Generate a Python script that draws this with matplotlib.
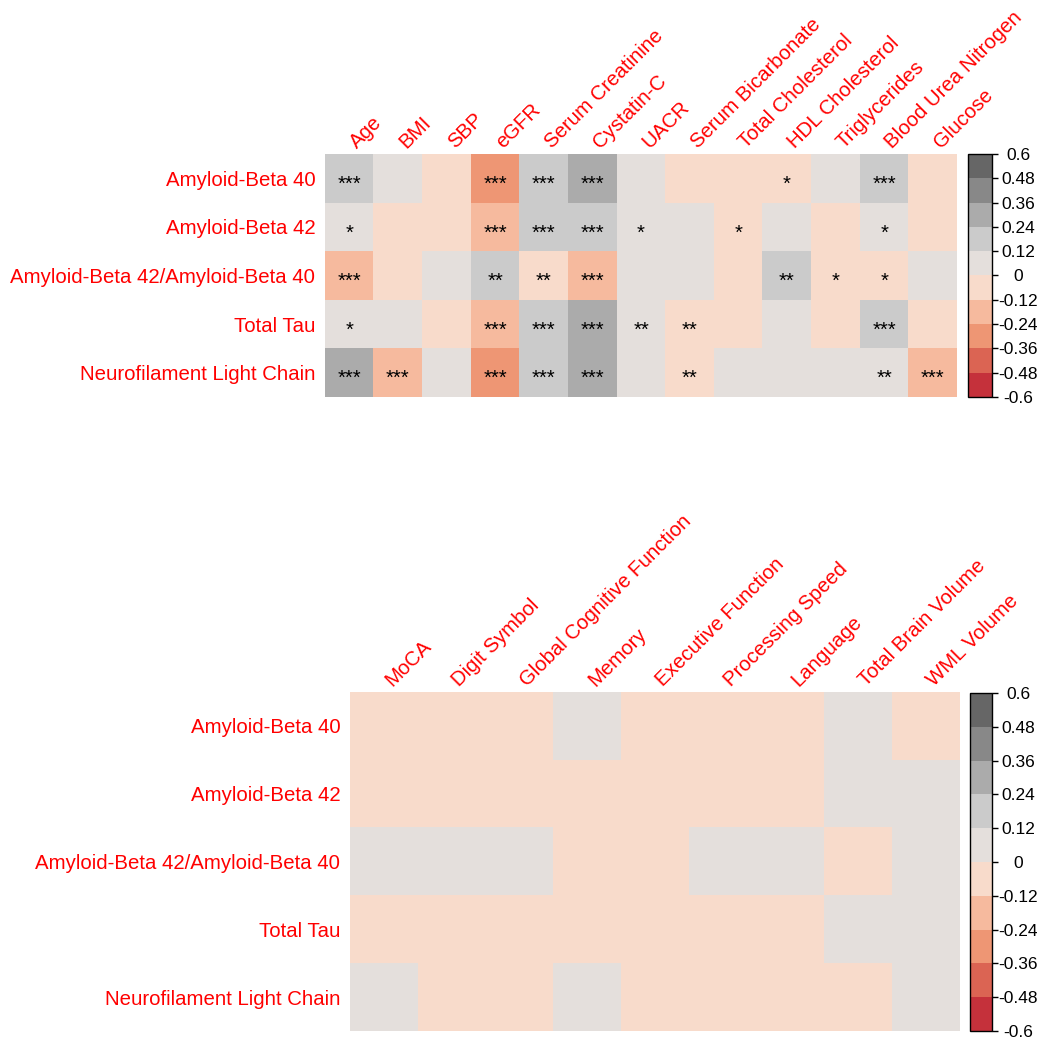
import matplotlib
matplotlib.use("Agg")
import matplotlib.pyplot as plt
from matplotlib.colors import ListedColormap, BoundaryNorm
import numpy as np

plt.rcParams["font.family"] = ["Liberation Sans", "DejaVu Sans"]

# biomarkers (rows, same for both panels)
biomarkers = ["Amyloid-Beta 40", "Amyloid-Beta 42", "Amyloid-Beta 42/Amyloid-Beta 40",
              "Total Tau", "Neurofilament Light Chain"]

# top panel: clinical variables
clin_vars = ["Age", "BMI", "SBP", "eGFR", "Serum Creatinine", "Cystatin-C", "UACR",
             "Serum Bicarbonate", "Total Cholesterol", "HDL Cholesterol", "Triglycerides",
             "Blood Urea Nitrogen", "Glucose"]
clin_r = [
    [0.18, 0.06, -0.06, -0.30, 0.18, 0.30, 0.06, -0.06, -0.06, -0.06, 0.06, 0.18, -0.06],
    [0.06, -0.06, -0.06, -0.18, 0.18, 0.18, 0.06, 0.06, -0.06, 0.06, -0.06, 0.06, -0.06],
    [-0.18, -0.06, 0.06, 0.18, -0.06, -0.18, 0.06, 0.06, -0.06, 0.18, -0.06, -0.06, 0.06],
    [0.06, 0.06, -0.06, -0.18, 0.18, 0.30, 0.06, -0.06, -0.06, 0.06, -0.06, 0.18, -0.06],
    [0.30, -0.18, 0.06, -0.30, 0.18, 0.30, 0.06, -0.06, 0.06, 0.06, 0.06, 0.06, -0.18],
]
clin_sig = [
    ["***", "", "", "***", "***", "***", "", "", "", "*", "", "***", ""],
    ["*", "", "", "***", "***", "***", "*", "", "*", "", "", "*", ""],
    ["***", "", "", "**", "**", "***", "", "", "", "**", "*", "*", ""],
    ["*", "", "", "***", "***", "***", "**", "**", "", "", "", "***", ""],
    ["***", "***", "", "***", "***", "***", "", "**", "", "", "", "**", "***"],
]

# bottom panel: cognition / imaging
cog_vars = ["MoCA", "Digit Symbol", "Global Cognitive Function", "Memory",
            "Executive Function", "Processing Speed", "Language",
            "Total Brain Volume", "WML Volume"]
cog_r = [
    [-0.06, -0.06, -0.06, 0.06, -0.06, -0.06, -0.06, 0.06, -0.06],
    [-0.06, -0.06, -0.06, -0.06, -0.06, -0.06, -0.06, 0.06, 0.06],
    [0.06, 0.06, 0.06, -0.06, -0.06, 0.06, 0.06, -0.06, 0.06],
    [-0.06, -0.06, -0.06, -0.06, -0.06, -0.06, -0.06, 0.06, 0.06],
    [0.06, -0.06, -0.06, 0.06, -0.06, -0.06, -0.06, -0.06, 0.06],
]

bounds = [-0.6, -0.48, -0.36, -0.24, -0.12, 0, 0.12, 0.24, 0.36, 0.48, 0.6]
tick_text = ["-0.6", "-0.48", "-0.36", "-0.24", "-0.12", "0",
             "0.12", "0.24", "0.36", "0.48", "0.6"]
bin_colors = ["#C5313B", "#DB6453", "#EE9674", "#F6BA9E", "#F8DBCB",
              "#E4DFDC", "#CBCBCB", "#ABABAB", "#888888", "#666666"]
cmap = ListedColormap(bin_colors)
norm = BoundaryNorm(bounds, cmap.N)

W, H = 1049, 1050
fig = plt.figure(figsize=(W / 100, H / 100), dpi=100)


def px_axes(x0, y0, x1, y1):
    return fig.add_axes([x0 / W, 1 - y1 / H, (x1 - x0) / W, (y1 - y0) / H])


def draw_panel(box, cbox, data, cols, sig=None):
    ax = px_axes(*box)
    data = np.array(data)
    ax.imshow(data, cmap=cmap, norm=norm, aspect="auto", interpolation="nearest")
    ax.set_xlim(-0.5, len(cols) - 0.5)
    ax.set_ylim(len(biomarkers) - 0.5, -0.5)
    for s in ax.spines.values():
        s.set_visible(False)
    ax.set_xticks([])
    ax.set_yticks(range(len(biomarkers)))
    ax.set_yticklabels(biomarkers, color="red", fontsize=14.7)
    ax.tick_params(axis="y", length=0, pad=7)
    cell_w = (box[2] - box[0]) / len(cols)
    cell_h = (box[3] - box[1]) / len(biomarkers)
    for j, name in enumerate(cols):
        ax.text(j + 8 / cell_w, -0.5 - 5 / cell_h, name, rotation=45, rotation_mode="anchor",
                ha="left", va="baseline", color="red", fontsize=14.7)
    if sig is not None:
        for i in range(len(biomarkers)):
            for j in range(len(cols)):
                if sig[i][j]:
                    ax.text(j, i + 11.5 / cell_h, sig[i][j], ha="center", va="baseline",
                            fontsize=14.5, color="black")

    cax = px_axes(*cbox)
    cb = fig.colorbar(plt.cm.ScalarMappable(norm=norm, cmap=cmap), cax=cax,
                      boundaries=bounds, ticks=bounds)
    cb.outline.set_edgecolor("black")
    cb.outline.set_linewidth(1.0)
    cb.ax.set_yticklabels(tick_text)
    cb.ax.tick_params(axis="y", length=4, width=1, color="black", labelsize=12.5, pad=15)
    for lab in cb.ax.get_yticklabels():
        lab.set_horizontalalignment("center")


draw_panel((325, 154, 957, 397), (968, 154, 992, 397), clin_r, clin_vars, clin_sig)
draw_panel((350, 692, 960, 1031), (970, 693, 992, 1031), cog_r, cog_vars)

fig.savefig("out.png", dpi=100)
